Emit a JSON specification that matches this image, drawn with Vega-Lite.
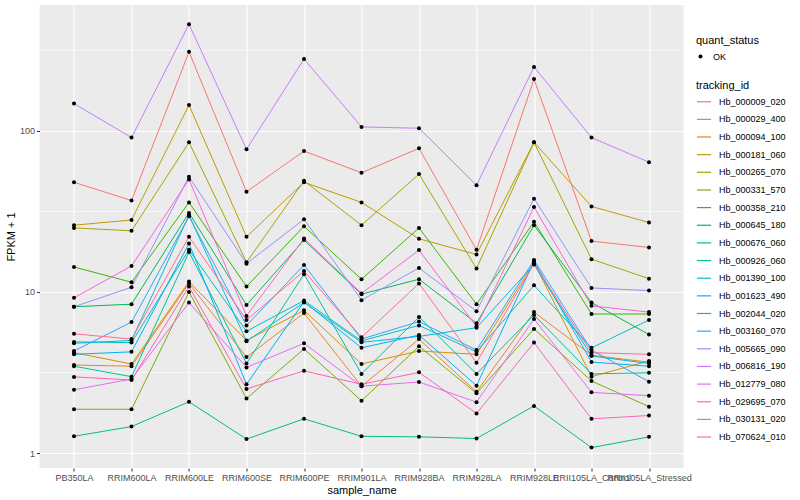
{
  "$schema": "https://vega.github.io/schema/vega-lite/v6.json",
  "autosize": {"type": "none"},
  "padding": {"left": 39.5, "top": 5, "right": 116.5, "bottom": 32},
  "width": 644,
  "height": 463,
  "background": "white",
  "config": {
    "font": "Liberation Sans",
    "view": {"fill": "#EBEBEB", "stroke": null},
    "axis": {
      "labelFont": "Liberation Sans", "labelFontSize": 9, "labelColor": "#4D4D4D",
      "titleFont": "Liberation Sans", "titleFontSize": 11, "titleFontWeight": "normal", "titleColor": "black",
      "tickColor": "#333333", "tickSize": 3, "domain": false,
      "gridColor": "white", "gridWidth": 1.1
    },
    "legend": {
      "titleFont": "Liberation Sans", "titleFontSize": 11, "titleFontWeight": "normal",
      "labelFont": "Liberation Sans", "labelFontSize": 9, "labelColor": "black"
    }
  },
  "datasets": {
    "minor": [{"m": 3.1623}, {"m": 31.623}, {"m": 316.23}]
  },
  "data": {"values": [
    {"t":"Hb_000009_020","s":"PB350LA","v":48},{"t":"Hb_000009_020","s":"RRIM600LA","v":37},{"t":"Hb_000009_020","s":"RRIM600LE","v":310},{"t":"Hb_000009_020","s":"RRIM600SE","v":42},{"t":"Hb_000009_020","s":"RRIM600PE","v":75},{"t":"Hb_000009_020","s":"RRIM901LA","v":55},{"t":"Hb_000009_020","s":"RRIM928BA","v":78},{"t":"Hb_000009_020","s":"RRIM928LA","v":18.3},{"t":"Hb_000009_020","s":"RRIM928LE","v":210},{"t":"Hb_000009_020","s":"RRII105LA_Control","v":20.7},{"t":"Hb_000009_020","s":"RRII105LA_Stressed","v":18.9},
    {"t":"Hb_000029_400","s":"PB350LA","v":3.52},{"t":"Hb_000029_400","s":"RRIM600LA","v":3.46},{"t":"Hb_000029_400","s":"RRIM600LE","v":11.3},{"t":"Hb_000029_400","s":"RRIM600SE","v":3.94},{"t":"Hb_000029_400","s":"RRIM600PE","v":7.4},{"t":"Hb_000029_400","s":"RRIM901LA","v":2.6},{"t":"Hb_000029_400","s":"RRIM928BA","v":5.1},{"t":"Hb_000029_400","s":"RRIM928LA","v":2.4},{"t":"Hb_000029_400","s":"RRIM928LE","v":7.5},{"t":"Hb_000029_400","s":"RRII105LA_Control","v":4.05},{"t":"Hb_000029_400","s":"RRII105LA_Stressed","v":3.66},
    {"t":"Hb_000094_100","s":"PB350LA","v":4.2},{"t":"Hb_000094_100","s":"RRIM600LA","v":3.57},{"t":"Hb_000094_100","s":"RRIM600LE","v":11.6},{"t":"Hb_000094_100","s":"RRIM600SE","v":5.0},{"t":"Hb_000094_100","s":"RRIM600PE","v":7.7},{"t":"Hb_000094_100","s":"RRIM901LA","v":3.57},{"t":"Hb_000094_100","s":"RRIM928BA","v":4.3},{"t":"Hb_000094_100","s":"RRIM928LA","v":4.1},{"t":"Hb_000094_100","s":"RRIM928LE","v":15.2},{"t":"Hb_000094_100","s":"RRII105LA_Control","v":2.98},{"t":"Hb_000094_100","s":"RRII105LA_Stressed","v":3.73},
    {"t":"Hb_000181_060","s":"PB350LA","v":26},{"t":"Hb_000181_060","s":"RRIM600LA","v":28},{"t":"Hb_000181_060","s":"RRIM600LE","v":145},{"t":"Hb_000181_060","s":"RRIM600SE","v":22},{"t":"Hb_000181_060","s":"RRIM600PE","v":48},{"t":"Hb_000181_060","s":"RRIM901LA","v":36},{"t":"Hb_000181_060","s":"RRIM928BA","v":21.4},{"t":"Hb_000181_060","s":"RRIM928LA","v":17.1},{"t":"Hb_000181_060","s":"RRIM928LE","v":85},{"t":"Hb_000181_060","s":"RRII105LA_Control","v":34},{"t":"Hb_000181_060","s":"RRII105LA_Stressed","v":27},
    {"t":"Hb_000265_070","s":"PB350LA","v":25},{"t":"Hb_000265_070","s":"RRIM600LA","v":24},{"t":"Hb_000265_070","s":"RRIM600LE","v":85},{"t":"Hb_000265_070","s":"RRIM600SE","v":15.3},{"t":"Hb_000265_070","s":"RRIM600PE","v":49},{"t":"Hb_000265_070","s":"RRIM901LA","v":26},{"t":"Hb_000265_070","s":"RRIM928BA","v":54},{"t":"Hb_000265_070","s":"RRIM928LA","v":14},{"t":"Hb_000265_070","s":"RRIM928LE","v":85},{"t":"Hb_000265_070","s":"RRII105LA_Control","v":16},{"t":"Hb_000265_070","s":"RRII105LA_Stressed","v":12.1},
    {"t":"Hb_000331_570","s":"PB350LA","v":1.87},{"t":"Hb_000331_570","s":"RRIM600LA","v":1.87},{"t":"Hb_000331_570","s":"RRIM600LE","v":10},{"t":"Hb_000331_570","s":"RRIM600SE","v":2.18},{"t":"Hb_000331_570","s":"RRIM600PE","v":4.43},{"t":"Hb_000331_570","s":"RRIM901LA","v":2.11},{"t":"Hb_000331_570","s":"RRIM928BA","v":4.6},{"t":"Hb_000331_570","s":"RRIM928LA","v":2.35},{"t":"Hb_000331_570","s":"RRIM928LE","v":5.9},{"t":"Hb_000331_570","s":"RRII105LA_Control","v":2.8},{"t":"Hb_000331_570","s":"RRII105LA_Stressed","v":1.94},
    {"t":"Hb_000358_210","s":"PB350LA","v":14.3},{"t":"Hb_000358_210","s":"RRIM600LA","v":11.5},{"t":"Hb_000358_210","s":"RRIM600LE","v":36},{"t":"Hb_000358_210","s":"RRIM600SE","v":10.8},{"t":"Hb_000358_210","s":"RRIM600PE","v":25.6},{"t":"Hb_000358_210","s":"RRIM901LA","v":12},{"t":"Hb_000358_210","s":"RRIM928BA","v":25},{"t":"Hb_000358_210","s":"RRIM928LA","v":8.4},{"t":"Hb_000358_210","s":"RRIM928LE","v":27.3},{"t":"Hb_000358_210","s":"RRII105LA_Control","v":7.3},{"t":"Hb_000358_210","s":"RRII105LA_Stressed","v":7.3},
    {"t":"Hb_000645_180","s":"PB350LA","v":8.1},{"t":"Hb_000645_180","s":"RRIM600LA","v":8.4},{"t":"Hb_000645_180","s":"RRIM600LE","v":31},{"t":"Hb_000645_180","s":"RRIM600SE","v":8.3},{"t":"Hb_000645_180","s":"RRIM600PE","v":21},{"t":"Hb_000645_180","s":"RRIM901LA","v":9.7},{"t":"Hb_000645_180","s":"RRIM928BA","v":12},{"t":"Hb_000645_180","s":"RRIM928LA","v":6.4},{"t":"Hb_000645_180","s":"RRIM928LE","v":26},{"t":"Hb_000645_180","s":"RRII105LA_Control","v":8.6},{"t":"Hb_000645_180","s":"RRII105LA_Stressed","v":5.44},
    {"t":"Hb_000676_060","s":"PB350LA","v":1.27},{"t":"Hb_000676_060","s":"RRIM600LA","v":1.46},{"t":"Hb_000676_060","s":"RRIM600LE","v":2.08},{"t":"Hb_000676_060","s":"RRIM600SE","v":1.22},{"t":"Hb_000676_060","s":"RRIM600PE","v":1.63},{"t":"Hb_000676_060","s":"RRIM901LA","v":1.27},{"t":"Hb_000676_060","s":"RRIM928BA","v":1.26},{"t":"Hb_000676_060","s":"RRIM928LA","v":1.23},{"t":"Hb_000676_060","s":"RRIM928LE","v":1.96},{"t":"Hb_000676_060","s":"RRII105LA_Control","v":1.08},{"t":"Hb_000676_060","s":"RRII105LA_Stressed","v":1.26},
    {"t":"Hb_000926_060","s":"PB350LA","v":3.46},{"t":"Hb_000926_060","s":"RRIM600LA","v":2.98},{"t":"Hb_000926_060","s":"RRIM600LE","v":17.7},{"t":"Hb_000926_060","s":"RRIM600SE","v":3.6},{"t":"Hb_000926_060","s":"RRIM600PE","v":12.9},{"t":"Hb_000926_060","s":"RRIM901LA","v":3.1},{"t":"Hb_000926_060","s":"RRIM928BA","v":7.0},{"t":"Hb_000926_060","s":"RRIM928LA","v":3.1},{"t":"Hb_000926_060","s":"RRIM928LE","v":7.2},{"t":"Hb_000926_060","s":"RRII105LA_Control","v":3.1},{"t":"Hb_000926_060","s":"RRII105LA_Stressed","v":3.15},
    {"t":"Hb_001390_100","s":"PB350LA","v":4.9},{"t":"Hb_001390_100","s":"RRIM600LA","v":4.85},{"t":"Hb_001390_100","s":"RRIM600LE","v":18.3},{"t":"Hb_001390_100","s":"RRIM600SE","v":5.7},{"t":"Hb_001390_100","s":"RRIM600PE","v":8.85},{"t":"Hb_001390_100","s":"RRIM901LA","v":4.97},{"t":"Hb_001390_100","s":"RRIM928BA","v":6.2},{"t":"Hb_001390_100","s":"RRIM928LA","v":4.25},{"t":"Hb_001390_100","s":"RRIM928LE","v":11},{"t":"Hb_001390_100","s":"RRII105LA_Control","v":4.5},{"t":"Hb_001390_100","s":"RRII105LA_Stressed","v":6.7},
    {"t":"Hb_001623_490","s":"PB350LA","v":4.8},{"t":"Hb_001623_490","s":"RRIM600LA","v":5.0},{"t":"Hb_001623_490","s":"RRIM600LE","v":30},{"t":"Hb_001623_490","s":"RRIM600SE","v":4.95},{"t":"Hb_001623_490","s":"RRIM600PE","v":8.6},{"t":"Hb_001623_490","s":"RRIM901LA","v":4.87},{"t":"Hb_001623_490","s":"RRIM928BA","v":5.3},{"t":"Hb_001623_490","s":"RRIM928LA","v":6.0},{"t":"Hb_001623_490","s":"RRIM928LE","v":14.8},{"t":"Hb_001623_490","s":"RRII105LA_Control","v":4.0},{"t":"Hb_001623_490","s":"RRII105LA_Stressed","v":3.6},
    {"t":"Hb_002044_020","s":"PB350LA","v":4.1},{"t":"Hb_002044_020","s":"RRIM600LA","v":4.25},{"t":"Hb_002044_020","s":"RRIM600LE","v":20},{"t":"Hb_002044_020","s":"RRIM600SE","v":2.67},{"t":"Hb_002044_020","s":"RRIM600PE","v":8.7},{"t":"Hb_002044_020","s":"RRIM901LA","v":4.5},{"t":"Hb_002044_020","s":"RRIM928BA","v":5.4},{"t":"Hb_002044_020","s":"RRIM928LA","v":2.62},{"t":"Hb_002044_020","s":"RRIM928LE","v":15.5},{"t":"Hb_002044_020","s":"RRII105LA_Control","v":3.67},{"t":"Hb_002044_020","s":"RRII105LA_Stressed","v":3.46},
    {"t":"Hb_003160_070","s":"PB350LA","v":4.3},{"t":"Hb_003160_070","s":"RRIM600LA","v":6.5},{"t":"Hb_003160_070","s":"RRIM600LE","v":29.5},{"t":"Hb_003160_070","s":"RRIM600SE","v":6.2},{"t":"Hb_003160_070","s":"RRIM600PE","v":14.7},{"t":"Hb_003160_070","s":"RRIM901LA","v":5.1},{"t":"Hb_003160_070","s":"RRIM928BA","v":6.55},{"t":"Hb_003160_070","s":"RRIM928LA","v":4.36},{"t":"Hb_003160_070","s":"RRIM928LE","v":15.8},{"t":"Hb_003160_070","s":"RRII105LA_Control","v":4.36},{"t":"Hb_003160_070","s":"RRII105LA_Stressed","v":2.77},
    {"t":"Hb_005665_090","s":"PB350LA","v":8.1},{"t":"Hb_005665_090","s":"RRIM600LA","v":10.7},{"t":"Hb_005665_090","s":"RRIM600LE","v":52},{"t":"Hb_005665_090","s":"RRIM600SE","v":15},{"t":"Hb_005665_090","s":"RRIM600PE","v":28.3},{"t":"Hb_005665_090","s":"RRIM901LA","v":8.9},{"t":"Hb_005665_090","s":"RRIM928BA","v":14.1},{"t":"Hb_005665_090","s":"RRIM928LA","v":7.6},{"t":"Hb_005665_090","s":"RRIM928LE","v":38},{"t":"Hb_005665_090","s":"RRII105LA_Control","v":10.6},{"t":"Hb_005665_090","s":"RRII105LA_Stressed","v":10.2},
    {"t":"Hb_006816_190","s":"PB350LA","v":148},{"t":"Hb_006816_190","s":"RRIM600LA","v":91},{"t":"Hb_006816_190","s":"RRIM600LE","v":460},{"t":"Hb_006816_190","s":"RRIM600SE","v":77},{"t":"Hb_006816_190","s":"RRIM600PE","v":280},{"t":"Hb_006816_190","s":"RRIM901LA","v":106},{"t":"Hb_006816_190","s":"RRIM928BA","v":104},{"t":"Hb_006816_190","s":"RRIM928LA","v":46},{"t":"Hb_006816_190","s":"RRIM928LE","v":250},{"t":"Hb_006816_190","s":"RRII105LA_Control","v":91},{"t":"Hb_006816_190","s":"RRII105LA_Stressed","v":64},
    {"t":"Hb_012779_080","s":"PB350LA","v":2.47},{"t":"Hb_012779_080","s":"RRIM600LA","v":2.88},{"t":"Hb_012779_080","s":"RRIM600LE","v":8.6},{"t":"Hb_012779_080","s":"RRIM600SE","v":3.4},{"t":"Hb_012779_080","s":"RRIM600PE","v":4.8},{"t":"Hb_012779_080","s":"RRIM901LA","v":2.6},{"t":"Hb_012779_080","s":"RRIM928BA","v":2.76},{"t":"Hb_012779_080","s":"RRIM928LA","v":2.07},{"t":"Hb_012779_080","s":"RRIM928LE","v":6.8},{"t":"Hb_012779_080","s":"RRII105LA_Control","v":2.38},{"t":"Hb_012779_080","s":"RRII105LA_Stressed","v":2.27},
    {"t":"Hb_029695_070","s":"PB350LA","v":9.2},{"t":"Hb_029695_070","s":"RRIM600LA","v":14.5},{"t":"Hb_029695_070","s":"RRIM600LE","v":50},{"t":"Hb_029695_070","s":"RRIM600SE","v":7.1},{"t":"Hb_029695_070","s":"RRIM600PE","v":21.5},{"t":"Hb_029695_070","s":"RRIM901LA","v":9.8},{"t":"Hb_029695_070","s":"RRIM928BA","v":18.2},{"t":"Hb_029695_070","s":"RRIM928LA","v":6.1},{"t":"Hb_029695_070","s":"RRIM928LE","v":33.7},{"t":"Hb_029695_070","s":"RRII105LA_Control","v":8.2},{"t":"Hb_029695_070","s":"RRII105LA_Stressed","v":7.5},
    {"t":"Hb_030131_020","s":"PB350LA","v":2.97},{"t":"Hb_030131_020","s":"RRIM600LA","v":2.84},{"t":"Hb_030131_020","s":"RRIM600LE","v":10.8},{"t":"Hb_030131_020","s":"RRIM600SE","v":2.5},{"t":"Hb_030131_020","s":"RRIM600PE","v":3.24},{"t":"Hb_030131_020","s":"RRIM901LA","v":2.67},{"t":"Hb_030131_020","s":"RRIM928BA","v":3.17},{"t":"Hb_030131_020","s":"RRIM928LA","v":1.76},{"t":"Hb_030131_020","s":"RRIM928LE","v":4.85},{"t":"Hb_030131_020","s":"RRII105LA_Control","v":1.63},{"t":"Hb_030131_020","s":"RRII105LA_Stressed","v":1.71},
    {"t":"Hb_070624_010","s":"PB350LA","v":5.5},{"t":"Hb_070624_010","s":"RRIM600LA","v":5.1},{"t":"Hb_070624_010","s":"RRIM600LE","v":22},{"t":"Hb_070624_010","s":"RRIM600SE","v":6.7},{"t":"Hb_070624_010","s":"RRIM600PE","v":13.5},{"t":"Hb_070624_010","s":"RRIM901LA","v":5.23},{"t":"Hb_070624_010","s":"RRIM928BA","v":11.3},{"t":"Hb_070624_010","s":"RRIM928LA","v":3.64},{"t":"Hb_070624_010","s":"RRIM928LE","v":15.0},{"t":"Hb_070624_010","s":"RRII105LA_Control","v":4.2},{"t":"Hb_070624_010","s":"RRII105LA_Stressed","v":4.1}
  ]},
  "encoding": {
    "x": {
      "field": "s", "type": "nominal", "title": "sample_name",
      "sort": ["PB350LA","RRIM600LA","RRIM600LE","RRIM600SE","RRIM600PE","RRIM901LA","RRIM928BA","RRIM928LA","RRIM928LE","RRII105LA_Control","RRII105LA_Stressed"],
      "scale": {"type": "point", "padding": 0.6},
      "axis": {"labelAngle": 0, "labelPadding": 2, "titlePadding": 2, "grid": true}
    },
    "y": {
      "field": "v", "type": "quantitative", "title": "FPKM + 1",
      "scale": {"type": "log", "domain": [0.807, 606], "nice": false, "zero": false},
      "axis": {"values": [1, 10, 100], "format": "d", "labelPadding": 2, "titlePadding": 3}
    }
  },
  "layer": [
    {
      "data": {"name": "minor"},
      "mark": {"type": "rule", "color": "white", "strokeWidth": 0.55},
      "encoding": {"y": {"field": "m", "type": "quantitative"}, "x": null}
    },
    {
      "mark": {"type": "line", "strokeWidth": 1},
      "encoding": {
        "color": {
          "field": "t", "type": "nominal", "title": "tracking_id",
          "scale": {"range": ["#F8766D","#EA8331","#D89000","#C09B00","#A3A500","#7CAE00","#39B600","#00BB4E","#00BF7D","#00C1A3","#00BFC4","#00BAE0","#00B0F6","#35A2FF","#9590FF","#C77CFF","#E76BF3","#FA62DB","#FF62BC","#FF6C91"]},
          "legend": {"orient": "none", "legendX": 656.5, "legendY": 75, "symbolType": "stroke", "symbolSize": 200, "symbolStrokeWidth": 1.2, "rowPadding": 4.65, "titlePadding": 2.7, "labelOffset": 7}
        }
      }
    },
    {
      "mark": {"type": "point", "filled": true, "color": "black", "size": 16, "opacity": 1},
      "encoding": {
        "shape": {
          "datum": "OK", "title": "quant_status",
          "scale": {"range": ["circle"]},
          "legend": {"orient": "none", "legendX": 656.5, "legendY": 30, "symbolFillColor": "black", "symbolStrokeWidth": 0, "symbolSize": 16, "titlePadding": 6, "labelOffset": 8}
        }
      }
    }
  ]
}
